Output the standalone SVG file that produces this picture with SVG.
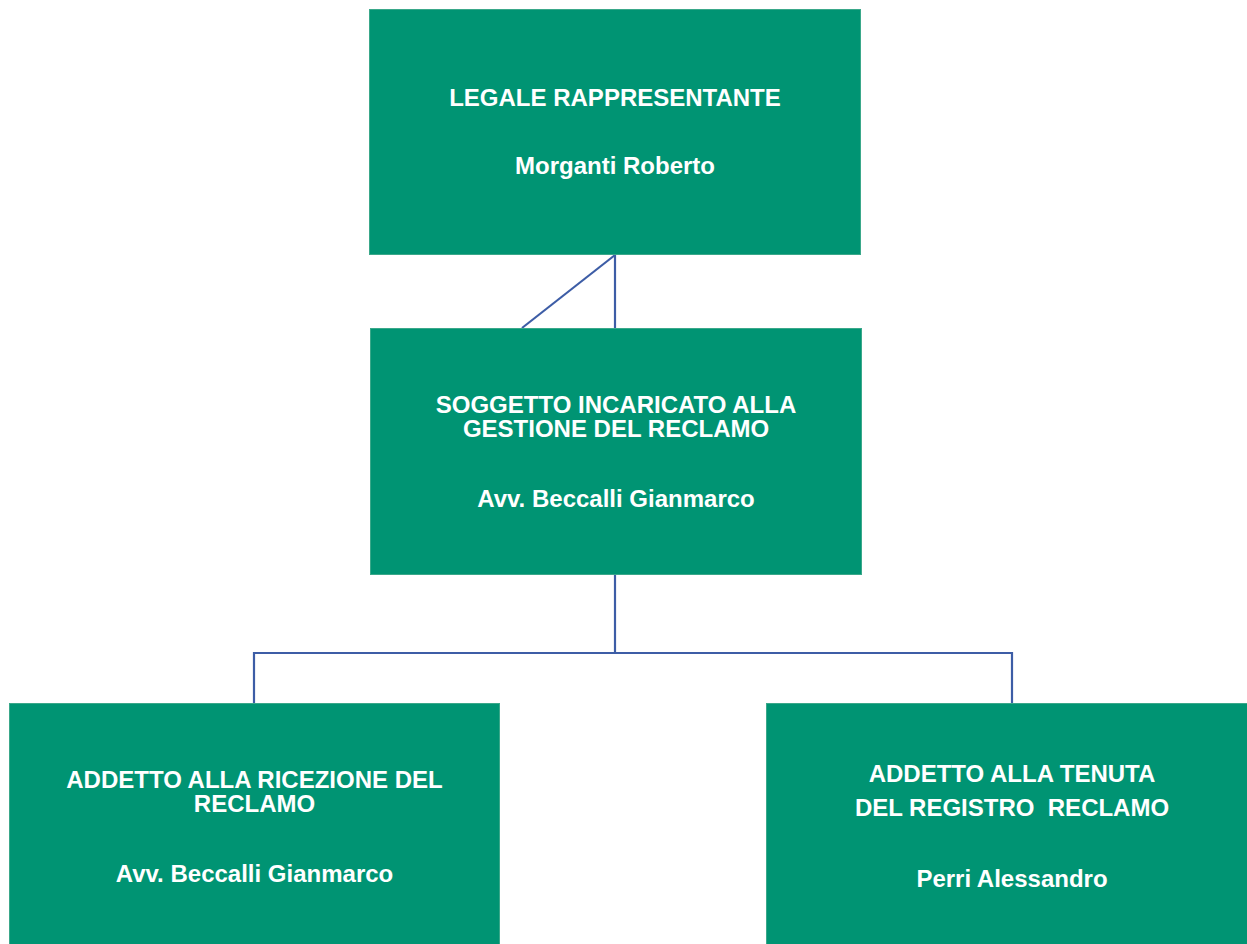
<svg xmlns="http://www.w3.org/2000/svg" width="1247" height="944" viewBox="0 0 1247 944">
<style>
.box{fill:#009473;stroke:#3aa88a;stroke-width:1}
.t{fill:#ffffff;font-family:"Liberation Sans",Arial,sans-serif;font-weight:bold;font-size:24px;text-anchor:middle}
.c{fill:none;stroke:#3d5da6;stroke-width:2.2}
</style>
<rect width="1247" height="944" fill="#ffffff"/>
<g id="connectors">
<line class="c" x1="615" y1="255" x2="522" y2="328"/>
<line class="c" x1="615" y1="255" x2="615" y2="328"/>
<polyline class="c" points="615,575 615,653"/>
<polyline class="c" points="254,703 254,653 1012,653 1012,703"/>
</g>
<g id="node-legale">
<rect class="box" x="369.5" y="9.5" width="491" height="245"/>
<text class="t" x="615" y="106">LEGALE RAPPRESENTANTE</text>
<text class="t" x="615" y="174">Morganti Roberto</text>
</g>
<g id="node-soggetto">
<rect class="box" x="370.5" y="328.5" width="491" height="246"/>
<text class="t" x="616" y="413">SOGGETTO INCARICATO ALLA</text>
<text class="t" x="616" y="437">GESTIONE DEL RECLAMO</text>
<text class="t" x="616" y="507">Avv. Beccalli Gianmarco</text>
</g>
<g id="node-ricezione">
<rect class="box" x="9.5" y="703.5" width="490" height="245"/>
<text class="t" x="254.5" y="788">ADDETTO ALLA RICEZIONE DEL</text>
<text class="t" x="254.5" y="812">RECLAMO</text>
<text class="t" x="254.5" y="882">Avv. Beccalli Gianmarco</text>
</g>
<g id="node-registro">
<rect class="box" x="766.5" y="703.5" width="485" height="245"/>
<text class="t" x="1012" y="782">ADDETTO ALLA TENUTA</text>
<text class="t" x="1012" y="816" xml:space="preserve">DEL REGISTRO  RECLAMO</text>
<text class="t" x="1012" y="887">Perri Alessandro</text>
</g>
</svg>
